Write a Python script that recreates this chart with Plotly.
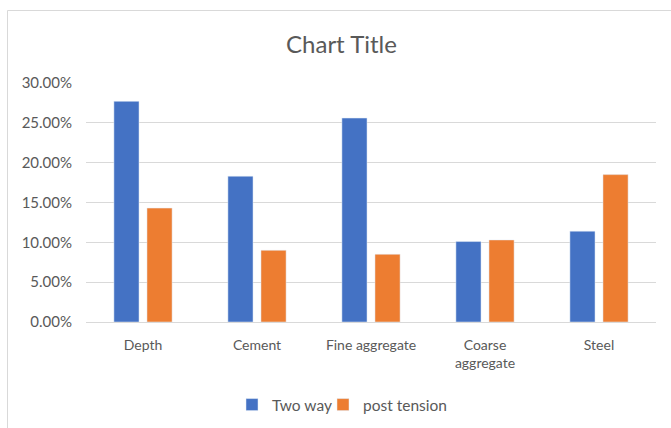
import plotly.graph_objects as go

categories = ["Depth", "Cement", "Fine aggregate", "Coarse<br>aggregate", "Steel"]
two_way = [0.277, 0.183, 0.256, 0.101, 0.114]
post_tension = [0.143, 0.090, 0.085, 0.103, 0.185]
tick_vals = [0, 0.05, 0.10, 0.15, 0.20, 0.25, 0.30]

FONT = "Lato"
TXT = "#595959"

fig = go.Figure()
fig.add_trace(go.Bar(name="Two way", x=categories, y=two_way, marker_color="#4472C4",
                     legend="legend"))
fig.add_trace(go.Bar(name="post tension", x=categories, y=post_tension, marker_color="#ED7D31",
                     legend="legend2"))

W, H = 671, 428
L, R, T, B = 86, 15, 83, 106
pw = W - L - R
ph = H - T - B

def px_x(p):
    return (p - L) / pw

def px_y(p):
    return (H - B - p) / ph

leg_common = dict(orientation="h", xref="container", yref="container",
                  xanchor="left", y=1 - 405 / H, yanchor="middle",
                  bgcolor="rgba(0,0,0,0)",
                  font=dict(family=FONT, size=15.5, color=TXT))

fig.update_layout(
    width=W, height=H,
    margin=dict(l=L, r=R, t=T, b=B),
    paper_bgcolor="white", plot_bgcolor="white",
    barmode="group", bargap=0.42, bargroupgap=0.24,
    font=dict(family=FONT, color=TXT, size=14),
    title=dict(text="Chart Title", x=341.5 / W, xref="container", xanchor="center",
               y=1 - 45 / H, yref="container", yanchor="middle",
               font=dict(family=FONT, size=24, color=TXT)),
    legend=dict(x=232 / W, **leg_common),
    legend2=dict(x=323 / W, **leg_common),
    showlegend=True,
)
fig.update_yaxes(range=[0, 0.30], tickvals=tick_vals, tickformat=".2%",
                 showgrid=True, gridcolor="#d9d9d9", gridwidth=1, zeroline=False,
                 showline=False, ticks="", ticklen=0, ticklabelstandoff=13,
                 tickfont=dict(family=FONT, size=15, color=TXT))
fig.update_xaxes(showline=True, linecolor="#d9d9d9", linewidth=1, ticks="",
                 ticklabelstandoff=10,
                 tickfont=dict(family=FONT, size=14, color=TXT))
fig.add_shape(type="rect", xref="paper", yref="paper",
              x0=px_x(7.5), x1=px_x(700), y0=px_y(450), y1=px_y(10.5),
              line=dict(color="#d9d9d9", width=1), fillcolor="rgba(0,0,0,0)", layer="below")

fig.write_html("out.html", config={"displayModeBar": False},
               post_script="document.body.style.margin='0px';")
